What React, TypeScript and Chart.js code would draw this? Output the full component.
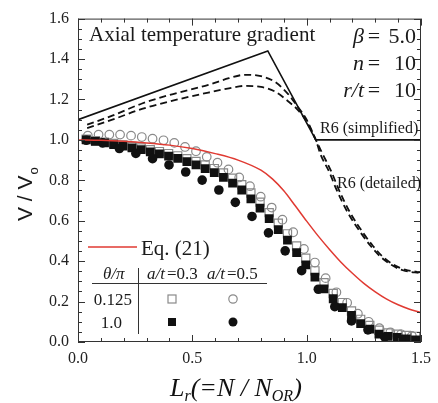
import React, { useEffect, useRef } from 'react';
import { Chart, registerables } from 'chart.js';

Chart.register(...registerables);

const SERIF = '"Liberation Serif", "Times New Roman", serif';
const SANS = '"Liberation Sans", Arial, sans-serif';

// R6 (simplified)
const simpX = [0, 0.83, 1.04, 1.5];
const simpY = [1.1, 1.44, 1.0, 1.0];

// R6 (detailed), two curves
const det1X = [0.04, 0.15, 0.28, 0.4, 0.57, 0.66, 0.73, 0.8, 0.86, 0.92, 0.96, 1.0, 1.04, 1.07, 1.11, 1.14, 1.19, 1.25, 1.29, 1.33, 1.38, 1.43, 1.5];
const det1Y = [1.075, 1.12, 1.18, 1.222, 1.272, 1.305, 1.322, 1.315, 1.288, 1.225, 1.165, 1.1, 1.0, 0.93, 0.838, 0.755, 0.64, 0.535, 0.475, 0.425, 0.382, 0.358, 0.345];
const det2X = [0.04, 0.15, 0.28, 0.4, 0.57, 0.66, 0.73, 0.8, 0.86, 0.92, 0.96, 1.0, 1.04, 1.06, 1.1, 1.13, 1.18, 1.24, 1.28, 1.32, 1.37, 1.42, 1.5];
const det2Y = [1.058, 1.1, 1.153, 1.19, 1.234, 1.255, 1.267, 1.262, 1.24, 1.19, 1.15, 1.09, 1.0, 0.93, 0.838, 0.755, 0.64, 0.535, 0.475, 0.425, 0.382, 0.355, 0.34];

// Eq. (21)
const eqX = [0, 0.1, 0.2, 0.3, 0.4, 0.5, 0.6, 0.7, 0.8, 0.85, 0.9, 0.95, 1.0, 1.05, 1.1, 1.15, 1.2, 1.25, 1.3, 1.35, 1.4, 1.45, 1.5];
const eqY = [1.0, 0.998, 0.993, 0.985, 0.974, 0.957, 0.932, 0.9, 0.85, 0.807, 0.748, 0.674, 0.598, 0.525, 0.458, 0.395, 0.34, 0.29, 0.248, 0.212, 0.184, 0.162, 0.145];

// a/t = 0.3 (squares): x positions
const sqX = [0.036, 0.076, 0.116, 0.156, 0.196, 0.236, 0.276, 0.316, 0.356, 0.396, 0.436, 0.476, 0.516, 0.556, 0.596, 0.636, 0.676, 0.716, 0.756, 0.796, 0.836, 0.876, 0.916, 0.956, 0.996, 1.036, 1.076, 1.116, 1.156, 1.196, 1.236, 1.276, 1.316, 1.356, 1.396, 1.436, 1.476];
// theta/pi = 1.0, a/t = 0.3 (filled squares)
const fsqY = [1.0, 0.993, 0.985, 0.977, 0.969, 0.96, 0.952, 0.941, 0.931, 0.92, 0.908, 0.892, 0.876, 0.858, 0.838, 0.814, 0.786, 0.752, 0.708, 0.662, 0.61, 0.556, 0.504, 0.442, 0.382, 0.321, 0.263, 0.214, 0.17, 0.132, 0.091, 0.064, 0.039, 0.028, 0.023, 0.015, 0.01];
// theta/pi = 0.125, a/t = 0.3 (open squares)
const osqY = [1.003, 0.996, 0.989, 0.982, 0.975, 0.967, 0.96, 0.951, 0.942, 0.932, 0.921, 0.907, 0.893, 0.876, 0.858, 0.836, 0.81, 0.778, 0.737, 0.692, 0.64, 0.588, 0.535, 0.475, 0.414, 0.352, 0.293, 0.24, 0.195, 0.153, 0.112, 0.082, 0.058, 0.045, 0.038, 0.032, 0.028];

// theta/pi = 0.125, a/t = 0.5 (open circles)
const ocX = [0.043, 0.09, 0.137, 0.184, 0.232, 0.279, 0.326, 0.374, 0.421, 0.468, 0.516, 0.563, 0.61, 0.658, 0.705, 0.752, 0.799, 0.847, 0.894, 0.941, 0.988, 1.036, 1.083, 1.13, 1.177, 1.224, 1.271, 1.318, 1.366, 1.413, 1.46];
const ocY = [1.021, 1.026, 1.026, 1.026, 1.021, 1.014, 1.006, 0.998, 0.985, 0.965, 0.944, 0.916, 0.887, 0.854, 0.814, 0.771, 0.719, 0.665, 0.605, 0.543, 0.46, 0.393, 0.316, 0.246, 0.194, 0.14, 0.1, 0.068, 0.048, 0.038, 0.03];

// theta/pi = 1.0, a/t = 0.5 (filled circles)
const fcX = [0.036, 0.108, 0.181, 0.253, 0.326, 0.398, 0.471, 0.543, 0.616, 0.688, 0.761, 0.833, 0.906, 0.978, 1.051, 1.123, 1.196, 1.268, 1.341, 1.413, 1.486];
const fcY = [0.998, 0.985, 0.957, 0.933, 0.907, 0.876, 0.841, 0.801, 0.752, 0.691, 0.621, 0.54, 0.451, 0.353, 0.261, 0.175, 0.104, 0.06, 0.025, 0.012, 0.006];

const zip = (xs: number[], ys: number[]) => xs.map((x, i) => ({ x, y: ys[i] }));

const TXT = '#1a1a1a';
const RED = '#e03a32';
const GRAY = '#8a8a8a';

function drawSquare(ctx: CanvasRenderingContext2D, cx: number, cy: number, s: number, fill: boolean) {
  if (fill) {
    ctx.fillStyle = '#111';
    ctx.fillRect(cx - s / 2, cy - s / 2, s, s);
  } else {
    ctx.strokeStyle = GRAY;
    ctx.lineWidth = 1.2;
    ctx.strokeRect(cx - s / 2, cy - s / 2, s, s);
  }
}
function drawCircle(ctx: CanvasRenderingContext2D, cx: number, cy: number, r: number, fill: boolean) {
  ctx.beginPath();
  ctx.arc(cx, cy, r, 0, Math.PI * 2);
  if (fill) {
    ctx.fillStyle = '#111';
    ctx.fill();
  } else {
    ctx.strokeStyle = GRAY;
    ctx.lineWidth = 1.2;
    ctx.stroke();
  }
}

const overlay = {
  id: 'overlay',
  afterDraw(chart: any) {
    const ctx: CanvasRenderingContext2D = chart.ctx;
    const a = chart.chartArea;
    const xs = chart.scales.x;
    const ys = chart.scales.y;
    ctx.save();
    // frame
    ctx.strokeStyle = '#333';
    ctx.lineWidth = 1;
    ctx.strokeRect(a.left + 0.5, a.top + 0.5, a.right - a.left - 1, a.bottom - a.top - 1);
    // inward ticks
    ctx.beginPath();
    for (let i = 0; i <= 32; i++) {
      const py = Math.round(ys.getPixelForValue(i * 0.05)) + 0.5;
      const len = i % 4 === 0 ? 7 : 4;
      ctx.moveTo(a.left, py); ctx.lineTo(a.left + len, py);
      ctx.moveTo(a.right, py); ctx.lineTo(a.right - len, py);
    }
    for (let i = 0; i <= 15; i++) {
      const px = Math.round(xs.getPixelForValue(i * 0.1)) + 0.5;
      const len = i % 5 === 0 ? 7 : 4;
      ctx.moveTo(px, a.bottom); ctx.lineTo(px, a.bottom - len);
      ctx.moveTo(px, a.top); ctx.lineTo(px, a.top + len);
    }
    ctx.stroke();

    ctx.fillStyle = TXT;
    ctx.textBaseline = 'alphabetic';
    // title
    ctx.font = `21px ${SERIF}`;
    ctx.textAlign = 'left';
    ctx.fillText('Axial temperature gradient', 89, 41);
    // parameters
    const rows: [string, string, number][] = [['\u03B2', '5.0', 43], ['n', '10', 70], ['r/t', '10', 97]];
    rows.forEach(([lab, val, by]) => {
      ctx.font = `italic 22px ${SERIF}`;
      ctx.textAlign = 'right';
      ctx.fillText(lab, 364, by);
      ctx.font = `22px ${SERIF}`;
      ctx.textAlign = 'center';
      ctx.fillText('=', 374, by);
      ctx.textAlign = 'right';
      ctx.fillText(val, 416, by);
    });
    // R6 labels
    ctx.font = `16px ${SERIF}`;
    ctx.textAlign = 'left';
    ctx.fillText('R6 (simplified)', 320, 133);
    ctx.fillText('R6 (detailed)', 337, 188);

    // Eq legend
    ctx.strokeStyle = RED;
    ctx.lineWidth = 1.5;
    ctx.beginPath();
    ctx.moveTo(88, 247); ctx.lineTo(137, 247);
    ctx.stroke();
    ctx.fillStyle = TXT;
    ctx.font = `21px ${SERIF}`;
    ctx.fillText('Eq. (21)', 141, 255);

    // table
    ctx.font = `italic 17px ${SERIF}`;
    ctx.textAlign = 'left';
    ctx.fillText('\u03B8/\u03C0', 103, 279);
    ctx.fillText('a/t', 147, 279);
    ctx.fillText('a/t', 207, 279);
    ctx.font = `17px ${SERIF}`;
    ctx.fillText('=0.3', 167, 279);
    ctx.fillText('=0.5', 227, 279);
    ctx.textAlign = 'right';
    ctx.fillText('0.125', 132, 305);
    ctx.fillText('1.0', 122, 328);
    ctx.strokeStyle = '#333';
    ctx.lineWidth = 1;
    ctx.beginPath();
    ctx.moveTo(92, 283.5); ctx.lineTo(267, 283.5);
    ctx.moveTo(138.5, 268); ctx.lineTo(138.5, 334);
    ctx.stroke();
    drawSquare(ctx, 172, 299, 8, false);
    drawCircle(ctx, 233, 299, 4.2, false);
    drawSquare(ctx, 172, 322, 8, true);
    drawCircle(ctx, 233, 322, 4.5, true);

    // y axis title
    ctx.save();
    ctx.translate(32, 221);
    ctx.rotate(-Math.PI / 2);
    ctx.textAlign = 'left';
    ctx.fillStyle = TXT;
    ctx.font = `21px ${SANS}`;
    const main = 'V / V';
    ctx.fillText(main, 0, 0);
    const w = ctx.measureText(main).width;
    ctx.font = `13px ${SANS}`;
    ctx.fillText('o', w + 1, 6);
    ctx.restore();

    // x axis title
    let cx = 170;
    const base = 396;
    const parts: [string, number, number][] = [['L', 26, 0], ['r', 16, 5], ['(=N / N', 26, 0], ['OR', 16, 5], [')', 26, 0]];
    ctx.textAlign = 'left';
    parts.forEach(([t, size, dy]) => {
      ctx.font = `italic ${size}px ${SERIF}`;
      ctx.fillText(t, cx, base + dy);
      cx += ctx.measureText(t).width;
    });
    ctx.restore();
  },
};

export default function App() {
  const ref = useRef<HTMLCanvasElement | null>(null);
  useEffect(() => {
    if (!ref.current) return;
    const lineDs = (label: string, xs: number[], ys: number[], color: string, dash: number[], mono: boolean, width: number) => ({
      label,
      data: zip(xs, ys),
      showLine: true,
      borderColor: color,
      backgroundColor: color,
      borderWidth: width,
      borderDash: dash,
      pointRadius: 0,
      cubicInterpolationMode: mono ? 'monotone' : 'default',
      tension: 0,
      fill: false,
    });
    const chart = new Chart(ref.current, {
      type: 'scatter',
      data: {
        datasets: [
          lineDs('Eq. (21)', eqX, eqY, RED, [], true, 1.5),
          { label: 'fc', data: zip(fcX, fcY), pointStyle: 'circle', pointRadius: 4.8, backgroundColor: '#111', borderColor: '#111', borderWidth: 0 },
          { label: 'fsq', data: zip(sqX, fsqY), pointStyle: 'rect', pointRadius: 6.2, backgroundColor: '#111', borderColor: '#111', borderWidth: 0 },
          { label: 'oc', data: zip(ocX, ocY), pointStyle: 'circle', pointRadius: 4.3, backgroundColor: 'rgba(255,255,255,0)', borderColor: GRAY, borderWidth: 1.2 },
          { label: 'osq', data: zip(sqX, osqY), pointStyle: 'rect', pointRadius: 5.8, backgroundColor: 'rgba(255,255,255,0)', borderColor: GRAY, borderWidth: 1.2 },
          lineDs('det1', det1X, det1Y, '#111', [7, 4], true, 1.8),
          lineDs('det2', det2X, det2Y, '#111', [7, 4], true, 1.8),
          lineDs('simp', simpX, simpY, '#111', [], false, 1.6),
        ],
      },
      options: {
        responsive: false,
        animation: false,
        layout: { padding: { left: 0, right: 15, top: 15, bottom: 0 } },
        plugins: { legend: { display: false }, tooltip: { enabled: false }, title: { display: false } },
        scales: {
          x: {
            type: 'linear', min: 0, max: 1.5,
            afterFit: (s: any) => { s.height = 61; },
            grid: { display: false, drawTicks: false },
            border: { display: false },
            ticks: { stepSize: 0.5, padding: 7, color: '#222', font: { family: SERIF, size: 16 }, maxRotation: 0, autoSkip: false, callback: (v: any) => Number(v).toFixed(1) },
          },
          y: {
            type: 'linear', min: 0, max: 1.6,
            afterFit: (s: any) => { s.width = 78; },
            grid: { display: false, drawTicks: false },
            border: { display: false },
            ticks: { stepSize: 0.2, padding: 9, color: '#222', font: { family: SERIF, size: 16 }, autoSkip: false, callback: (v: any) => Number(v).toFixed(1) },
          },
        },
      } as any,
      plugins: [overlay],
    });
    return () => chart.destroy();
  }, []);
  return (
    <div style={{ position: 'absolute', left: 0, top: 0, width: 438, height: 403, background: '#fff' }}>
      <canvas ref={ref} width={438} height={403} style={{ display: 'block', width: 438, height: 403 }} />
    </div>
  );
}
